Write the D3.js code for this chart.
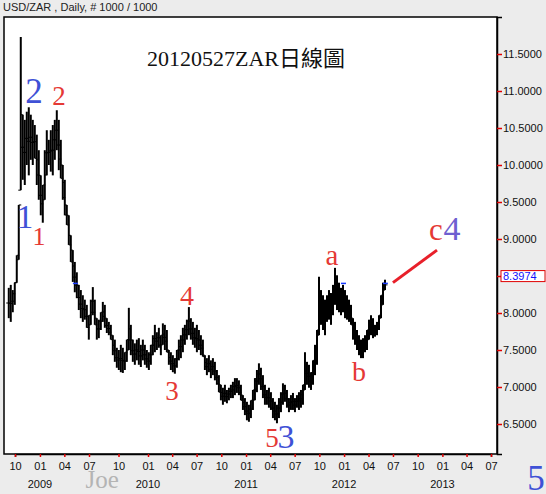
<!DOCTYPE html>
<html><head><meta charset="utf-8">
<script src="https://cdn.jsdelivr.net/npm/d3@7"></script>
<style>
html,body{margin:0;padding:0;background:#ececec;}
svg{display:block;}
</style></head>
<body><svg id="c" width="546" height="494"></svg>
<script>
// ---------------- data ----------------
const chartTitle = "USD/ZAR , Daily, # 1000 / 1000";
const mainTitle = "20120527ZAR日線圖";
const seriesStart = new Date(2008, 8, 8);
const seriesEnd = new Date(2012, 4, 25);
const lastPrice = 8.3974;

const highs = [
 8.34, 8.38, 8.31, 8.41, 8.78, 9.46, 11.73, 10.68, 10.61, 10.72,
 10.78, 10.68, 10.61, 10.54, 10.41, 10.20, 9.86, 9.73, 10.20, 10.47,
 10.34, 10.47, 10.54, 10.61, 10.74, 10.61, 10.34, 10.00, 9.80, 9.46,
 9.32, 9.05, 8.85, 8.69, 8.55, 8.38, 8.31, 8.24, 8.18, 8.11,
 7.97, 8.18, 8.35, 8.18, 7.93, 7.91, 8.01, 8.15, 8.11, 7.93,
 7.88, 7.84, 7.70, 7.64, 7.53, 7.50, 7.57, 7.53, 7.47, 7.64,
 8.07, 7.84, 7.64, 7.59, 7.64, 7.66, 7.57, 7.64, 7.57, 7.50,
 7.47, 7.57, 7.70, 7.84, 7.74, 7.80, 7.70, 7.86, 7.84, 7.77,
 7.50, 7.47, 7.43, 7.39, 7.50, 7.64, 7.70, 7.80, 7.84, 7.91,
 8.08, 7.93, 7.88, 7.80, 7.84, 7.77, 7.70, 7.64, 7.43, 7.39,
 7.43, 7.36, 7.39, 7.34, 7.23, 7.16, 7.03, 6.99, 7.03, 6.96,
 6.99, 7.03, 7.07, 7.12, 7.12, 7.09, 7.03, 6.89, 6.85, 6.80,
 6.76, 6.82, 6.96, 7.12, 7.23, 7.32, 7.26, 7.16, 7.03, 6.96,
 6.99, 6.93, 6.85, 6.80, 6.76, 6.85, 6.93, 7.05, 7.03, 6.96,
 6.85, 6.89, 6.92, 6.85, 6.89, 6.93, 6.96, 7.03, 7.47, 7.34,
 7.30, 7.20, 7.36, 7.57, 7.77, 8.49, 8.31, 8.24, 8.18, 8.24,
 8.31, 8.27, 8.38, 8.61, 8.51, 8.41, 8.34, 8.38, 8.31, 8.24,
 8.18, 8.11, 7.93, 7.88, 7.77, 7.70, 7.64, 7.66, 7.70, 7.77,
 7.91, 7.97, 7.93, 7.84, 7.88, 7.97, 8.24, 8.41, 8.45
];
const lows = [
 7.93, 7.88, 8.01, 8.11, 8.41, 8.72, 9.66, 9.80, 9.73, 10.00,
 9.86, 10.07, 10.00, 10.09, 9.73, 9.53, 9.32, 9.22, 9.53, 9.86,
 10.00, 9.91, 9.86, 10.07, 10.20, 9.93, 9.82, 9.53, 9.32, 9.19,
 8.92, 8.69, 8.42, 8.28, 8.20, 8.04, 7.93, 7.88, 7.91, 7.80,
 7.64, 7.84, 7.97, 7.84, 7.64, 7.66, 7.77, 7.88, 7.80, 7.73,
 7.70, 7.64, 7.43, 7.34, 7.26, 7.23, 7.20, 7.19, 7.23, 7.34,
 7.50, 7.43, 7.34, 7.30, 7.36, 7.30, 7.27, 7.36, 7.30, 7.26,
 7.23, 7.30, 7.43, 7.47, 7.50, 7.53, 7.43, 7.57, 7.50, 7.47,
 7.30, 7.23, 7.20, 7.18, 7.26, 7.36, 7.39, 7.47, 7.57, 7.64,
 7.70, 7.64, 7.57, 7.53, 7.47, 7.50, 7.43, 7.41, 7.23, 7.16,
 7.20, 7.12, 7.16, 7.09, 7.03, 6.93, 6.82, 6.76, 6.80, 6.78,
 6.82, 6.85, 6.85, 6.89, 6.92, 6.89, 6.82, 6.69, 6.62, 6.55,
 6.53, 6.58, 6.69, 6.82, 6.93, 7.03, 6.96, 6.85, 6.76, 6.76,
 6.72, 6.69, 6.58, 6.55, 6.51, 6.58, 6.66, 6.76, 6.80, 6.72,
 6.66, 6.69, 6.69, 6.66, 6.72, 6.69, 6.72, 6.76, 6.96, 7.03,
 6.99, 6.96, 7.03, 7.16, 7.30, 7.70, 7.84, 7.77, 7.70, 7.88,
 7.91, 7.84, 7.97, 8.11, 8.04, 8.01, 7.97, 8.01, 7.93, 7.91,
 7.88, 7.84, 7.64, 7.57, 7.50, 7.43, 7.39, 7.39, 7.47, 7.50,
 7.64, 7.70, 7.66, 7.68, 7.70, 7.77, 7.93, 8.11, 8.31
];
const priceTicks = [6.5, 7.0, 7.5, 8.0, 8.5, 9.0, 9.5, 10.0, 10.5, 11.0, 11.5];
const monthTicks = d3.timeMonth.range(new Date(2008, 9, 1), new Date(2013, 7, 1), 3);

// wave labels: text, date, price, colour, size
const waveLabels = [
 {t: "1", d: new Date(2008, 10, 7),  p: 9.15,  c: "#3f51d6", s: 33},
 {t: "2", d: new Date(2008, 11, 10), p: 10.84, c: "#3f51d6", s: 35},
 {t: "2", d: new Date(2009, 2, 12),  p: 10.81, c: "#e53935", s: 27},
 {t: "1", d: new Date(2008, 11, 29), p: 8.92,  c: "#e53935", s: 26},
 {t: "4", d: new Date(2010, 4, 26),  p: 8.11,  c: "#e53935", s: 28},
 {t: "3", d: new Date(2010, 2, 31),  p: 6.82,  c: "#e53935", s: 27},
 {t: "5", d: new Date(2011, 3, 8),   p: 6.19,  c: "#e53935", s: 27},
 {t: "3", d: new Date(2011, 4, 30),  p: 6.18,  c: "#3f51d6", s: 34},
 {t: "a", d: new Date(2011, 10, 17), p: 8.65,  c: "#e53935", s: 29},
 {t: "b", d: new Date(2012, 1, 26),  p: 7.08,  c: "#e53935", s: 28},
 {t: "c", d: new Date(2012, 11, 8),  p: 8.99,  c: "#e53935", s: 31},
 {t: "4", d: new Date(2013, 1, 6),   p: 8.99,  c: "#6f5fd0", s: 34},
 {t: "5", d: new Date(2013, 11, 16), p: 5.61,  c: "#3f51d6", s: 35}
];
const watermark = {t: "Joe", d: new Date(2009, 7, 11), p: 5.64};
const projection = [{d: new Date(2012, 6, 1), p: 8.41}, {d: new Date(2012, 11, 12), p: 8.85}];
const blueMarks = [new Date(2009, 4, 10), new Date(2011, 11, 28), new Date(2012, 5, 1)];
const bluePrice = 8.40;

// ---------------- layout ----------------
const W = 546, H = 494;
const L = 4, R = 497, T = 17, B = 454;
const svg = d3.select("#c");
svg.append("rect").attr("width", W).attr("height", H).attr("fill", "#ececec");

const x = d3.scaleTime()
  .domain([new Date(2008, 9, 1), new Date(2009, 6, 1), new Date(2010, 0, 1), new Date(2013, 6, 1)])
  .range([15, 89, 148, 491]);
const y = d3.scaleLinear().domain([6.0946, 12.0]).range([B, T]);
const n = highs.length;
const xb = d3.scaleLinear().domain([0, n - 1]).range([x(seriesStart), x(seriesEnd) + 2]);

svg.append("rect").attr("x", L).attr("y", T).attr("width", R - L).attr("height", B - T)
  .attr("fill", "#fff").attr("stroke", "#000").attr("stroke-width", 1.5);

const font = "'Liberation Sans', Arial, sans-serif";
const serif = "'Liberation Serif', 'Times New Roman', 'Noto Sans CJK TC', serif";

// top-left caption
svg.append("text").attr("x", 3).attr("y", 11).attr("font-family", font).attr("font-size", 11)
  .attr("fill", "#222").text(chartTitle);

// main title
svg.append("text").attr("x", 246).attr("y", 66).attr("text-anchor", "middle")
  .attr("font-family", serif).attr("font-size", 22).attr("fill", "#111").text(mainTitle);

// price bars
const mid = i => (highs[i] + lows[i]) / 2;
const plot = svg.append("g");
plot.selectAll("line.bar").data(d3.range(n)).join("line")
  .attr("class", "bar")
  .attr("x1", i => xb(i)).attr("x2", i => xb(i))
  .attr("y1", i => y(highs[i])).attr("y2", i => y(lows[i]))
  .attr("stroke", "#000").attr("stroke-width", 2);
// open tick (left) from previous bar's midpoint, close tick (right) toward next bar's midpoint
plot.selectAll("line.op").data(d3.range(n)).join("line")
  .attr("class", "op")
  .attr("x1", i => xb(i) - 2.5).attr("x2", i => xb(i))
  .attr("y1", i => y(Math.min(highs[i], Math.max(lows[i], mid(Math.max(0, i - 1))))))
  .attr("y2", i => y(Math.min(highs[i], Math.max(lows[i], mid(Math.max(0, i - 1))))))
  .attr("stroke", "#000").attr("stroke-width", 1);
plot.selectAll("line.cl").data(d3.range(n)).join("line")
  .attr("class", "cl")
  .attr("x1", i => xb(i)).attr("x2", i => xb(i) + 2.5)
  .attr("y1", i => y(Math.min(highs[i], Math.max(lows[i], mid(Math.min(n - 1, i + 1))))))
  .attr("y2", i => y(Math.min(highs[i], Math.max(lows[i], mid(Math.min(n - 1, i + 1))))))
  .attr("stroke", "#000").attr("stroke-width", 1);

// blue marks
svg.selectAll("line.bm").data(blueMarks).join("line").attr("class", "bm")
  .attr("x1", d => x(d) - 2).attr("x2", d => x(d) + 3)
  .attr("y1", y(bluePrice)).attr("y2", y(bluePrice))
  .attr("stroke", "#1a3cff").attr("stroke-width", 1.5);

// projection line
svg.append("line")
  .attr("x1", x(projection[0].d)).attr("y1", y(projection[0].p))
  .attr("x2", x(projection[1].d)).attr("y2", y(projection[1].p))
  .attr("stroke", "#e8202a").attr("stroke-width", 3);

// right axis
const ya = d3.axisRight(y).tickValues(priceTicks).tickFormat(d3.format(".4f")).tickSize(5).tickPadding(1);
const gy = svg.append("g").attr("transform", `translate(${R},0)`).call(ya);
gy.select(".domain").attr("stroke", "#000").attr("stroke-width", 1.5);
gy.selectAll(".tick line").attr("stroke", "#e00000").attr("stroke-width", 1.5);
gy.selectAll(".tick text").attr("font-family", font).attr("font-size", 11).attr("fill", "#111");

// last price box
const ly = y(lastPrice);
svg.append("rect").attr("x", 501).attr("y", ly - 13).attr("width", 44).attr("height", 11)
  .attr("fill", "#fff").attr("stroke", "#e00000").attr("stroke-width", 1);
svg.append("text").attr("x", 503).attr("y", ly - 3.5).attr("font-family", font).attr("font-size", 11)
  .attr("fill", "#1010ff").text(d3.format(".4f")(lastPrice));

// bottom axis
const xa = d3.axisBottom(x).tickValues(monthTicks).tickFormat(d3.timeFormat("%m")).tickSize(3).tickPadding(5);
const gx = svg.append("g").attr("transform", `translate(0,${B})`).call(xa);
gx.select(".domain").attr("stroke", "#000").attr("stroke-width", 1.5);
gx.selectAll(".tick line").attr("stroke", "#e00000").attr("stroke-width", 1.5);
gx.selectAll(".tick text").attr("font-family", font).attr("font-size", 11).attr("fill", "#111");
svg.selectAll("text.yr").data(monthTicks.filter(d => d.getMonth() === 0)).join("text").attr("class", "yr")
  .attr("x", d => x(d)).attr("y", 488).attr("text-anchor", "middle")
  .attr("font-family", font).attr("font-size", 11).attr("fill", "#111")
  .text(d3.timeFormat("%Y"));

// watermark
svg.append("text").attr("x", x(watermark.d)).attr("y", y(watermark.p)).attr("text-anchor", "middle")
  .attr("font-family", serif).attr("font-size", 25).attr("fill", "#b4b4b4").text(watermark.t);

// wave labels
svg.selectAll("text.wv").data(waveLabels).join("text").attr("class", "wv")
  .attr("x", d => x(d.d)).attr("y", d => y(d.p)).attr("text-anchor", "middle")
  .attr("font-family", serif).attr("font-size", d => d.s).attr("fill", d => d.c)
  .text(d => d.t);
</script></body></html>
